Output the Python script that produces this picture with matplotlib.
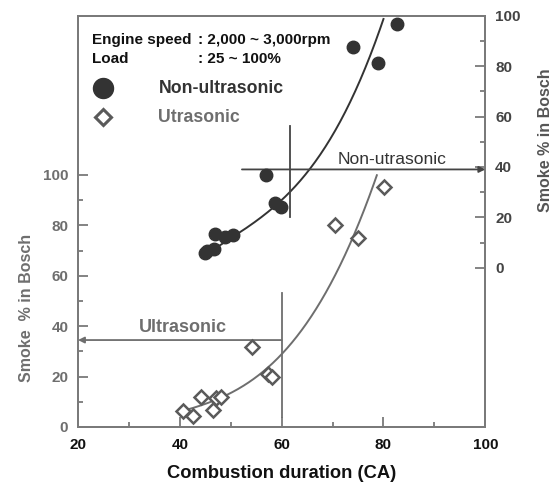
import matplotlib
matplotlib.use("Agg")
import numpy as np
from matplotlib import pyplot as plt
from matplotlib import font_manager
from matplotlib.ticker import FixedLocator

# Non-ultrasonic points (right axis, smoke %)
non_x = [82.6, 74.0, 78.9, 56.9, 58.7, 59.8, 46.9, 48.9, 50.5, 44.9, 45.4, 46.7]
non_y = [96.7, 87.4, 81.3, 36.8, 25.6, 24.0, 13.4, 12.1, 13.0, 5.8, 6.8, 7.4]

# Ultrasonic points (left axis, smoke %)
ult_x = [80.2, 70.5, 75.0, 54.1, 57.4, 58.1, 44.2, 47.2, 48.0, 46.6, 40.7, 42.5]
ult_y = [95.4, 80.2, 75.1, 31.9, 21.0, 20.0, 12.0, 11.4, 12.0, 6.7, 6.3, 4.4]

# trend curves
non_curve_x = [47.5, 50.0, 52.0, 55.0, 57.7, 61.7, 64.9, 69.5, 74.8, 78.0, 80.0]
non_curve_y = [9.5, 11.2, 13.2, 17.5, 23.5, 30.8, 38.8, 50.7, 70.5, 86.4, 100.0]
ult_curve_x = [41.0, 45.0, 49.2, 52.5, 55.8, 59.7, 64.9, 68.9, 71.8, 73.8, 78.7]
ult_curve_y = [6.5, 9.3, 12.7, 16.5, 21.3, 27.9, 41.2, 53.1, 66.3, 75.0, 99.5]

x_ticks = [20, 40, 60, 80, 100]
y_ticks = [0, 20, 40, 60, 80, 100]

DARK = "#333333"
GRAY = "#6e6e6e"
SPINE = "#7a7a7a"

names = {f.name for f in font_manager.fontManager.ttflist}
NARROW = "Liberation Sans Narrow" if "Liberation Sans Narrow" in names else None
plt.rcParams["font.family"] = ["Liberation Sans", "DejaVu Sans"]


def trend(xs, ys):
    # smooth cubic trend line through the points
    coef = np.polyfit(xs, ys, 3)
    xx = np.linspace(min(xs), max(xs), 200)
    return xx, np.polyval(coef, xx)


fig = plt.figure(figsize=(5.6, 4.86), dpi=100)
ax = fig.add_axes([0.1393, 0.1214, 0.7273, 0.8463])
ax2 = ax.twinx()

ax.set_xlim(20, 100)
ax.set_ylim(0, 163.2)
ax2.set_ylim(-63.2, 100)

for a in (ax, ax2):
    for s in a.spines.values():
        s.set_color(SPINE)
        s.set_linewidth(1.4)

ax.xaxis.set_major_locator(FixedLocator(x_ticks))
ax.xaxis.set_minor_locator(FixedLocator([30, 50, 70, 90]))
ax.set_xticklabels([str(v) for v in x_ticks])
ax.yaxis.set_major_locator(FixedLocator(y_ticks))
ax.yaxis.set_minor_locator(FixedLocator([10, 30, 50, 70, 90]))
ax2.yaxis.set_major_locator(FixedLocator(y_ticks))
ax2.yaxis.set_minor_locator(FixedLocator([10, 30, 50, 70, 90]))

ax.tick_params(axis="x", which="both", direction="in", color=SPINE, width=1.3,
               labelsize=11, labelcolor="#111111", pad=8)
ax.tick_params(axis="y", which="both", direction="in", color=SPINE, width=1.3,
               labelsize=11, labelcolor=GRAY, pad=7)
ax2.tick_params(axis="y", which="both", direction="in", color=SPINE, width=1.3,
                labelsize=11, labelcolor="#444444", pad=7)
for a in (ax, ax2):
    a.tick_params(which="major", length=7)
    a.tick_params(which="minor", length=3.6)
for lab in ax.get_xticklabels() + ax.get_yticklabels() + ax2.get_yticklabels():
    lab.set_fontweight("bold")

ax.set_xlabel("Combustion duration (CA)", fontsize=13.2, fontweight="bold",
              color="#111111", labelpad=9)
ax.set_ylabel("Smoke  % in Bosch", fontsize=11.5, fontweight="bold", color=GRAY)
ax.yaxis.set_label_coords(-0.108, 0.29)
ax2.set_ylabel("Smoke % in Bosch", fontsize=11.5, fontweight="bold", color="#555555")
ax2.yaxis.set_label_coords(1.13, 0.698)

# trend curves
ax2.plot(*trend(non_curve_x, non_curve_y), color=DARK, lw=1.4, zorder=2)
ax.plot(*trend(ult_curve_x, ult_curve_y), color=GRAY, lw=1.4, zorder=2)

# data points
ax2.plot(non_x, non_y, "o", color=DARK, ms=9, zorder=4, clip_on=False)
ax.plot(ult_x, ult_y, "D", mfc="white", mec="#5a5a5a", mew=1.8, ms=6.8, zorder=4)

# non-ultrasonic reading
ax2.plot([61.6, 61.6], [56.2, 20.0], color="#444444", lw=1.3, zorder=3)
ax2.annotate("", xy=(100, 39.0), xytext=(52.2, 39.0),
             arrowprops=dict(arrowstyle="-|>", color="#444444", lw=1.3,
                             mutation_scale=9, shrinkA=0, shrinkB=0))
ax2.text(71.0, 43.0, "Non-utrasonic", fontsize=12.6, color=DARK, va="center", ha="left")

# ultrasonic reading
ax.plot([60, 60], [53.1, 4.0], color=GRAY, lw=1.3, zorder=3)
ax.annotate("", xy=(20, 34.5), xytext=(60, 34.5),
            arrowprops=dict(arrowstyle="-|>", color=GRAY, lw=1.3,
                            mutation_scale=9, shrinkA=0, shrinkB=0))
ax.text(40.6, 39.5, "Ultrasonic", fontsize=13, color=GRAY, va="center", ha="center",
        fontweight="bold")

# legend block
if NARROW:
    hdr = dict(fontsize=12.7, fontweight="bold", color="#111111", va="center",
               family=[NARROW, "DejaVu Sans"])
else:
    hdr = dict(fontsize=11, fontweight="bold", color="#111111", va="center")
ax.text(22.7, 153.6, "Engine speed", **hdr)
ax.text(43.6, 153.6, ": 2,000 ~ 3,000rpm", **hdr)
ax.text(22.7, 146.1, "Load", **hdr)
ax.text(43.6, 146.1, ": 25 ~ 100%", **hdr)

ax.plot([25.0], [134.4], "o", color=DARK, ms=14.4)
ax.text(35.8, 134.4, "Non-ultrasonic", fontsize=12.7, fontweight="bold", color=DARK,
        va="center")
ax.plot([25.0], [122.9], "D", mfc="white", mec="#5a5a5a", mew=2.2, ms=8.5)
ax.text(35.8, 122.9, "Utrasonic", fontsize=12.7, fontweight="bold", color=GRAY,
        va="center")

fig.savefig("out.png", dpi=100)
